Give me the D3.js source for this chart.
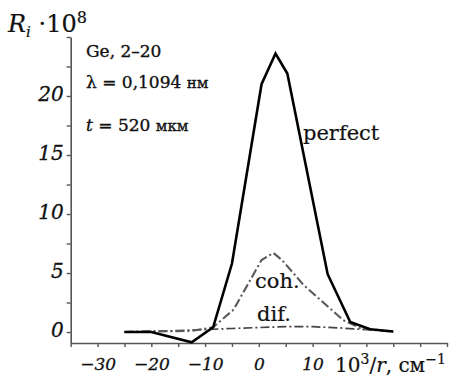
<!DOCTYPE html>
<html>
<head>
<meta charset="utf-8">
<script src="https://cdn.jsdelivr.net/npm/d3@7/dist/d3.min.js"></script>
<style>
  html, body { margin: 0; padding: 0; background: #fff; }
  svg { display: block; }
  text { font-family: "DejaVu Serif", "Liberation Serif", serif; fill: #111; }
</style>
</head>
<body>
<svg id="chart" width="456" height="380"></svg>
<script>
// ---- data ----
const perfectX = [-25, -20, -12.5, -8.5, -5, 0.5, 3.1, 5.3, 12.8, 17.0, 20.7, 25];
const perfectY = [0, 0, -0.87, 0.4, 5.8, 21.0, 23.6, 21.9, 4.9, 0.85, 0.23, 0.05];
const cohX = [-25, -12.5, -8.5, -4.7, 0.5, 2.7, 4.3, 8.3, 15.7, 18.8, 25];
const cohY = [0, 0.1, 0.4, 1.9, 6.1, 6.7, 6.1, 4.0, 1.0, 0.35, 0];
const difX = [-25, -15, -5, 0, 5, 10, 15, 20, 25];
const difY = [0.02, 0.12, 0.3, 0.38, 0.45, 0.45, 0.35, 0.2, 0.05];
const xTicks = [-35, -30, -25, -20, -15, -10, -5, 0, 5, 10, 15, 20, 25, 30, 35];
const xTickLabels = [-30, -20, -10, 0, 10];
const yTicks = [0, 2.5, 5, 7.5, 10, 12.5, 15, 17.5, 20, 22.5, 25];
const yTickLabels = [0, 5, 10, 15, 20];

const svg = d3.select("#chart");
const x = d3.scaleLinear().domain([-35, 35]).range([70.7, 447]);
const y = d3.scaleLinear().domain([-0.93, 25]).range([343, 37]);

const fmt = v => (v < 0 ? "\u2212" + Math.abs(v) : String(v));

// y axis
const yAxis = d3.axisLeft(y).tickValues(yTicks).tickSize(4).tickSizeOuter(0)
  .tickFormat(v => yTickLabels.includes(v) ? fmt(v) : "");
const gy = svg.append("g").attr("transform", `translate(${x(-35)},0)`).call(yAxis);
gy.select(".domain").attr("stroke", "#555").attr("stroke-width", 1.6);
gy.selectAll(".tick line").attr("stroke", "#555").attr("stroke-width", 1.4);
gy.selectAll(".tick text").attr("font-style", "italic")
  .attr("font-size", 20).attr("fill", "#111").attr("x", -7).attr("dy", "0.2em")
  .attr("stroke", "#111").attr("stroke-width", 0.3);

// x axis
const xAxis = d3.axisBottom(x).tickValues(xTicks).tickSize(4).tickSizeOuter(0)
  .tickFormat(v => xTickLabels.includes(v) ? fmt(v) : "");
const gx = svg.append("g").attr("transform", `translate(0,${y(-0.93)})`).call(xAxis);
gx.select(".domain").attr("stroke", "#555").attr("stroke-width", 1.6);
gx.selectAll(".tick line").attr("stroke", "#555").attr("stroke-width", 1.4);
gx.selectAll(".tick text").attr("font-style", "italic")
  .attr("font-size", 17).attr("fill", "#111").attr("y", 27).attr("dy", 0)
  .attr("stroke", "#111").attr("stroke-width", 0.3);

// lines
const mk = (xs, ys) => xs.map((v, i) => [v, ys[i]]);
const line = d3.line().x(d => x(d[0])).y(d => y(d[1]));

svg.append("path").datum(mk(difX, difY)).attr("d", line)
  .attr("fill", "none").attr("stroke", "#444").attr("stroke-width", 1.7)
  .attr("stroke-dasharray", "9,3,2,3");

svg.append("path").datum(mk(cohX, cohY)).attr("d", line)
  .attr("fill", "none").attr("stroke", "#595959").attr("stroke-width", 2.1)
  .attr("stroke-dasharray", "9,3,2,3");

svg.append("path").datum(mk(perfectX, perfectY)).attr("d", line)
  .attr("fill", "none").attr("stroke", "#000").attr("stroke-width", 2.6)
  .attr("stroke-linejoin", "miter");

// annotations
const ann = svg.append("g").attr("font-size", 21).attr("stroke", "#111").attr("stroke-width", 0.2);
ann.append("text").attr("x", 303).attr("y", 140).text("perfect");
ann.append("text").attr("x", 255).attr("y", 288).text("coh.");
ann.append("text").attr("x", 257).attr("y", 321).text("dif.");

const info = svg.append("g").attr("font-size", 17).attr("stroke", "#111").attr("stroke-width", 0.35);
info.append("text").attr("x", 86).attr("y", 57).text("Ge, 2\u201320");
const l2 = info.append("text").attr("x", 86).attr("y", 88);
l2.append("tspan").text("\u03bb = 0,1094 ");
l2.append("tspan").attr("font-size", 15).text("нм");
const l3 = info.append("text").attr("x", 86).attr("y", 131);
l3.append("tspan").attr("font-style", "italic").text("t");
l3.append("tspan").text(" = 520 ");
l3.append("tspan").attr("font-size", 15).text("мкм");

// y label
const yl = svg.append("text").attr("x", 8).attr("y", 32).attr("font-size", 24)
  .attr("stroke", "#111").attr("stroke-width", 0.2);
yl.append("tspan").attr("font-style", "italic").text("R");
yl.append("tspan").attr("font-style", "italic").attr("font-size", 15).attr("dy", 5).text("i");
yl.append("tspan").attr("dy", -5).text(" \u00b710");
yl.append("tspan").attr("font-size", 16).attr("dy", -9).text("8");

// x label
const xl = svg.append("text").attr("x", 335).attr("y", 372).attr("font-size", 20)
  .attr("stroke", "#111").attr("stroke-width", 0.2);
xl.append("tspan").text("10");
xl.append("tspan").attr("font-size", 14).attr("dy", -8).text("3");
xl.append("tspan").attr("dy", 8).text("/");
xl.append("tspan").attr("font-style", "italic").text("r");
xl.append("tspan").text(", см");
xl.append("tspan").attr("font-size", 14).attr("dy", -8).text("\u22121");
</script>
</body>
</html>
